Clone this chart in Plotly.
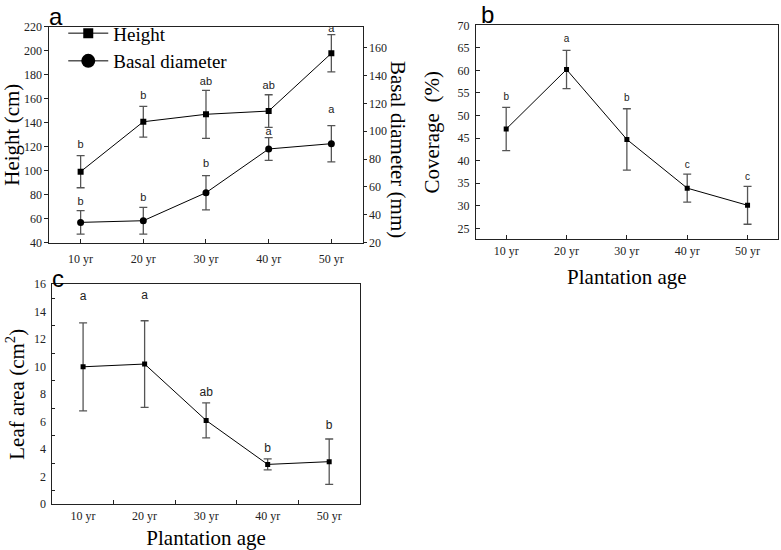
import plotly.graph_objects as go

# plantation age categories
ages = ["10 yr", "20 yr", "30 yr", "40 yr", "50 yr"]

# panel a: height (cm) and basal diameter (mm)
height_cm = [99.2, 140.8, 147.0, 149.7, 197.8]
height_sd = [13.4, 12.8, 20.0, 13.6, 15.5]
height_sig = ["b", "b", "ab", "ab", "a"]
height_sig_y = [120.8, 162.3, 173.7, 170.6, 217.8]

basal_mm = [34.6, 35.8, 55.9, 87.3, 91.1]
basal_sd = [8.5, 9.6, 12.3, 8.2, 13.0]
basal_sig = ["b", "b", "b", "a", "a"]
basal_sig_y = [48.7, 51.6, 76.0, 99.0, 115.3]

# panel b: coverage (%)
coverage = [47.0, 60.2, 44.7, 33.9, 30.1]
coverage_sd = [4.8, 4.25, 6.8, 3.1, 4.2]
coverage_sig = ["b", "a", "b", "c", "c"]
coverage_sig_y = [54.0, 66.9, 53.7, 39.0, 36.3]

# panel c: leaf area (cm2)
leaf_area = [10.0, 10.2, 6.1, 2.9, 3.1]
leaf_sd = [3.2, 3.15, 1.27, 0.4, 1.65]
leaf_sig = ["a", "a", "ab", "b", "b"]
leaf_sig_y = [15.1, 15.15, 8.07, 4.0, 5.7]

SERIF = "Liberation Serif, Times New Roman, serif"
SANS = "Liberation Sans, Arial, sans-serif"
ERR = "#555555"


def err(arr):
    return dict(type="data", array=arr, visible=True, color=ERR, thickness=1.3, width=4)


def series(x, y, sd, symbol, size, xa, ya, name):
    return go.Scatter(
        x=x, y=y, error_y=err(sd), mode="lines+markers", name=name,
        line=dict(color="black", width=1),
        marker=dict(symbol=symbol, size=size, color="black"),
        xaxis=xa, yaxis=ya, showlegend=False,
    )


def letters(x, y, txt, xa, ya, size):
    return go.Scatter(
        x=x, y=y, text=txt, mode="text", xaxis=xa, yaxis=ya, showlegend=False,
        textfont=dict(family=SANS, size=size, color="#222222"),
    )


fig = go.Figure()

# panel a
fig.add_trace(series(ages, height_cm, height_sd, "square", 6, "x", "y", "Height"))
fig.add_trace(series(ages, basal_mm, basal_sd, "circle", 7, "x", "y2", "Basal diameter"))
fig.add_trace(letters(ages, height_sig_y, height_sig, "x", "y", 11))
fig.add_trace(letters(ages, basal_sig_y, basal_sig, "x", "y2", 11))
# legend entries with bigger symbols
for nm, sym, sz in [("Height", "square", 10), ("Basal diameter", "circle", 14)]:
    fig.add_trace(go.Scatter(
        x=[None], y=[None], mode="lines+markers", name=nm,
        line=dict(color="black", width=1),
        marker=dict(symbol=sym, size=sz, color="black"),
        xaxis="x", yaxis="y",
    ))

# panel b
fig.add_trace(series(ages, coverage, coverage_sd, "square", 5, "x3", "y3", "Coverage"))
fig.add_trace(letters(ages, coverage_sig_y, coverage_sig, "x3", "y3", 10))

# panel c
fig.add_trace(series(ages, leaf_area, leaf_sd, "square", 5, "x4", "y4", "Leaf area"))
fig.add_trace(letters(ages, leaf_sig_y, leaf_sig, "x4", "y4", 12))

tickfont = dict(family=SERIF, size=12, color="#222222")
titlefont = dict(family=SERIF, size=21, color="black")
axis_common = dict(
    showline=True, linecolor="#222222", linewidth=1, mirror=True,
    showgrid=False, zeroline=False, tickfont=tickfont, tickcolor="#222222",
    automargin=False,
)

fig.update_layout(
    width=781, height=550, autosize=False,
    margin=dict(l=0, r=0, t=0, b=0),
    paper_bgcolor="white", plot_bgcolor="white",
    legend=dict(
        x=0.081, y=0.974, xanchor="left", yanchor="top",
        bgcolor="rgba(0,0,0,0)", font=dict(family=SERIF, size=19, color="black"),
        tracegroupgap=0, itemwidth=40,
    ),
    xaxis=dict(axis_common, domain=[0.0631, 0.4644], anchor="y",
               range=[-0.5, 4.5], ticks="inside", ticklen=4,
               ticklabelstandoff=5),
    yaxis=dict(axis_common, domain=[0.5587, 0.9515], anchor="x",
               range=[40, 220], dtick=20, ticks="outside", ticklen=4,
               title=dict(text="Height (cm)", font=titlefont, standoff=2)),
    yaxis2=dict(axis_common, overlaying="y", side="right", anchor="x",
                range=[20, 175.1], tickvals=[20, 40, 60, 80, 100, 120, 140, 160],
                ticks="outside", ticklen=3, mirror=False),
    xaxis3=dict(axis_common, domain=[0.6095, 0.9958], anchor="y3",
                range=[-0.5, 4.5], ticks="inside", ticklen=4,
                ticklabelstandoff=0,
                title=dict(text="Plantation age", font=titlefont, standoff=12)),
    yaxis3=dict(axis_common, domain=[0.5649, 0.954], anchor="x3",
                range=[22.56, 70], dtick=5, ticks="inside", ticklen=4,
                ticklabelstandoff=3,
                title=dict(text="Coverage\u00a0 (%)", font=titlefont, standoff=12)),
    xaxis4=dict(axis_common, domain=[0.0670, 0.4609], anchor="y4",
                range=[-0.5, 4.5], ticks="inside", ticklen=4,
                tickson="boundaries", ticklabelstandoff=0,
                title=dict(text="Plantation age", font=titlefont, standoff=10)),
    yaxis4=dict(axis_common, domain=[0.0831, 0.4831], anchor="x4",
                range=[0, 16], dtick=2, ticks="", ticklabelstandoff=3,
                minor=dict(ticks="inside", ticklen=3, dtick=1, tickcolor="#222222"),
                title=dict(text="Leaf area (cm<sup>2</sup>)", font=titlefont, standoff=3)),
)

# right-hand title of panel a reads top to bottom
fig.add_annotation(text="Basal diameter (mm)", xref="paper", yref="paper",
                   x=398 / 781, y=1 - 149 / 550, xanchor="center", yanchor="middle",
                   textangle=90, showarrow=False, font=titlefont)

# panel letters
for lab, px, py in [("a", 56, 17), ("b", 487, 15), ("c", 58, 278)]:
    fig.add_annotation(text=lab, xref="paper", yref="paper",
                       x=px / 781, y=1 - py / 550, xanchor="center", yanchor="middle",
                       showarrow=False, font=dict(family=SANS, size=24, color="black"))

# the page body has a default 8px margin; drop it so the figure sits at 0,0
fig.write_html("out.html",
               config={"displayModeBar": False},
               post_script="document.body.style.margin='0';"
                           "document.body.style.overflow='hidden';")
